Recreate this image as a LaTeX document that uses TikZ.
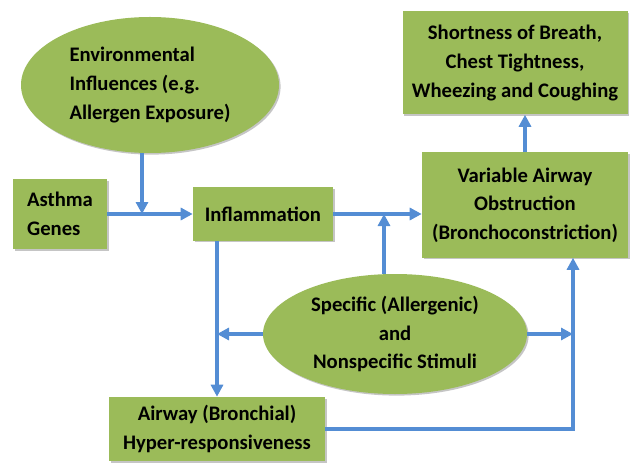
\documentclass[tikz,border=0pt]{standalone}
\usepackage{fontspec}
\setmainfont{Carlito}
\usepackage{xcolor}
\usepackage{tikz}
\usetikzlibrary{positioning, arrows.meta, shapes.geometric, shadows}

\definecolor{boxgreen}{RGB}{155,187,89}
\definecolor{arrowblue}{RGB}{84,141,212}

\begin{document}
\begin{tikzpicture}[
    x=0.75pt, y=-0.75pt,
    txt/.style={font=\bfseries\fontsize{15.5}{21.5}\selectfont, text=black},
    shade/.style={drop shadow={shadow xshift=1.2pt, shadow yshift=-1.2pt, fill=black!45, opacity=0.5}},
    box/.style={txt, shade, rectangle, fill=boxgreen, align=center, inner sep=2pt},
    oval/.style={txt, shade, ellipse, fill=boxgreen, align=center, inner sep=0pt},
    flow/.style={line width=3pt, draw=arrowblue, -{Triangle[length=9pt, width=9pt]}},
]
\useasboundingbox (0,0) rectangle (634,470);

% Causes
\node[oval, minimum width=193.5pt, minimum height=102pt, align=left] (env) at (150,85)
    {Environmental\\ Influences (e.g.\\Allergen Exposure)};
\node[box, minimum width=70.5pt, minimum height=52.5pt, align=left] (genes) at (60,214)
    {Asthma\\Genes};
\node[box, minimum width=105pt, minimum height=39.75pt] (infl) at (263,214) {Inflammation};

% Effects
\node[box, minimum width=154.5pt, minimum height=78.75pt] (vao) at (525,205)
    {Variable Airway\\Obstruction\\(Bronchoconstriction)};
\node[box, minimum width=168.75pt, minimum height=77.25pt] (sob) at (515,63)
    {Shortness of Breath,\\Chest Tightness,\\Wheezing and Coughing};

% Stimuli and hyper-responsiveness
\node[oval, minimum width=198pt, minimum height=90pt] (stim) at (395,334)
    {Specific (Allergenic)\\and\\Nonspecific Stimuli};
\node[box, minimum width=162pt, minimum height=48pt] (ahr) at (217,429)
    {Airway (Bronchial)\\Hyper-responsiveness};

% Junction points
\coordinate (join) at (142,214);
\coordinate (meet) at (384,214);
\coordinate (rside) at (573,334);

% Arrows
\draw[flow] (env.south -| join) -- (join);
\draw[flow] (genes) -- (infl);
\draw[flow] (infl.east) -- (infl.east -| vao.west);
\draw[flow] (stim.north -| meet) -- (meet);
\draw[flow] (vao.north) -- (vao.north |- sob.south);
\draw[flow] (infl.south -| ahr.north) -- (ahr.north);
\draw[flow] (stim.west) -- (stim.west -| ahr.north);
\draw[flow] (stim.east) -- (stim.east -| rside);
\draw[flow] (ahr.east) -| (vao.south -| rside);

\end{tikzpicture}
\end{document}
